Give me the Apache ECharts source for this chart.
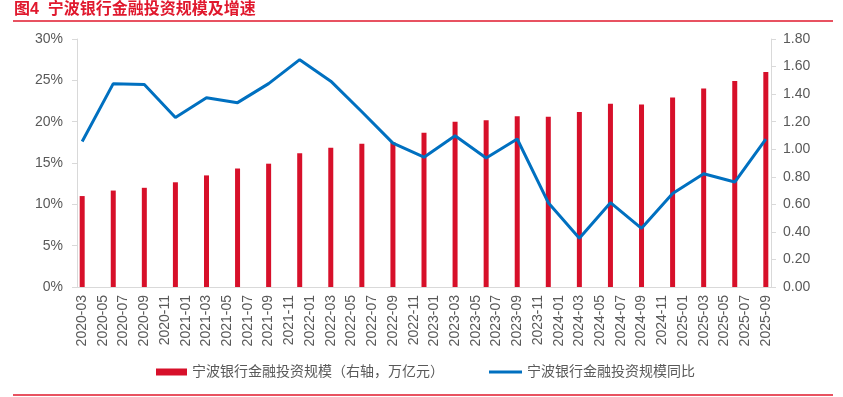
<!DOCTYPE html>
<html><head><meta charset="utf-8">
<script src="https://cdn.jsdelivr.net/npm/echarts@6/dist/echarts.min.js"></script>
<style>html,body{margin:0;padding:0;background:#fff}#c{width:843px;height:397px}</style>
</head><body><div id="c"></div>
<script>
// Quarterly observation dates
var quarters = ['2020-03','2020-06','2020-09','2020-12','2021-03','2021-06','2021-09','2021-12',
  '2022-03','2022-06','2022-09','2022-12','2023-03','2023-06','2023-09','2023-12',
  '2024-03','2024-06','2024-09','2024-12','2025-03','2025-06','2025-09'];
// 宁波银行金融投资规模（万亿元）
var scale = [0.66,0.70,0.72,0.76,0.81,0.86,0.895,0.97,1.01,1.04,1.05,1.12,
  1.20,1.21,1.24,1.235,1.27,1.33,1.325,1.375,1.44,1.495,1.56];
// 同比（%）
var yoy = [17.6,24.6,24.5,20.5,22.9,22.3,24.6,27.5,24.9,21.2,17.4,15.7,
  18.3,15.6,17.9,10.2,5.9,10.2,7.1,11.3,13.7,12.7,17.9];
var leftTicks = {min:0, max:30, interval:5};
var rightTicks = {min:0, max:1.8, interval:0.2};

// monthly category axis 2020-03 .. 2025-09
var months = [];
for (var y = 2020; y <= 2025; y++) {
  for (var m = 1; m <= 12; m++) {
    if (y === 2020 && m < 3) continue;
    if (y === 2025 && m > 9) break;
    months.push(y + '-' + (m < 10 ? '0' + m : m));
  }
}
var barData = months.map(function(){return null;});
var lineData = months.map(function(){return null;});
quarters.forEach(function(q, i){
  var idx = months.indexOf(q);
  barData[idx] = scale[i];
  lineData[idx] = yoy[i];
});

var FONT = '"Liberation Sans", "Noto Sans CJK SC", sans-serif';
var GRAY = '#595959';
var RED = '#D7102A';
var BLUE = '#0070C0';
var NAME_BAR = '宁波银行金融投资规模（右轴，万亿元）';
var NAME_LINE = '宁波银行金融投资规模同比';
var chart = echarts.init(document.getElementById('c'), null, {renderer:'canvas'});
chart.setOption({
  animation: false,
  textStyle: {fontFamily: FONT},
  graphic: [
    {type:'text', left:14, top:2, style:{text:'图4  宁波银行金融投资规模及增速', fill:'#E0182D', font:'bold 16px ' + FONT}},
    {type:'line', shape:{x1:13,y1:21,x2:833,y2:21}, style:{stroke:'#E0182D', lineWidth:1.5}},
    {type:'line', shape:{x1:13,y1:395,x2:833,y2:395}, style:{stroke:'#E0182D', lineWidth:1.5}}
  ],
  grid: {left:77, right:72, top:39, bottom:110, containLabel:false},
  legend: [
    {left:151, top:360, data:[{name:NAME_BAR, icon:'rect'}], itemWidth:31, itemHeight:7,
     textStyle:{color:GRAY, fontSize:14, fontFamily:FONT}},
    {left:484, top:360, data:[{name:NAME_LINE, icon:'rect', itemStyle:{color:BLUE}}], itemWidth:33, itemHeight:3,
     textStyle:{color:GRAY, fontSize:14, fontFamily:FONT}}
  ],
  xAxis: {
    type: 'category', data: months, boundaryGap: true,
    axisLine: {lineStyle:{color:'#D9D9D9'}},
    axisTick: {interval:1, length:5, lineStyle:{color:'#D9D9D9'}},
    axisLabel: {interval:1, rotate:90, color:GRAY, fontSize:14, margin:8, fontFamily: FONT}
  },
  yAxis: [
    {type:'value', min:leftTicks.min, max:leftTicks.max, interval:leftTicks.interval, position:'left',
     splitLine:{show:false},
     axisLine:{show:true, lineStyle:{color:'#D9D9D9'}},
     axisTick:{show:true, length:5, lineStyle:{color:'#D9D9D9'}},
     axisLabel:{formatter:'{value}%', color:GRAY, fontSize:14, margin:14, fontFamily: FONT}},
    {type:'value', min:rightTicks.min, max:rightTicks.max, interval:rightTicks.interval, position:'right',
     splitLine:{show:false},
     axisLine:{show:true, lineStyle:{color:'#D9D9D9'}},
     axisTick:{show:true, length:5, lineStyle:{color:'#D9D9D9'}},
     axisLabel:{formatter:function(v){return v.toFixed(2);}, color:GRAY, fontSize:14, margin:12, fontFamily: FONT}}
  ],
  series: [
    {name:NAME_BAR, type:'bar', yAxisIndex:1, data:barData,
     barWidth:5, itemStyle:{color:RED}},
    {name:NAME_LINE, type:'line', yAxisIndex:0, data:lineData,
     connectNulls:true, symbol:'none', lineStyle:{color:BLUE, width:3}, itemStyle:{color:BLUE}}
  ]
});
</script></body></html>
